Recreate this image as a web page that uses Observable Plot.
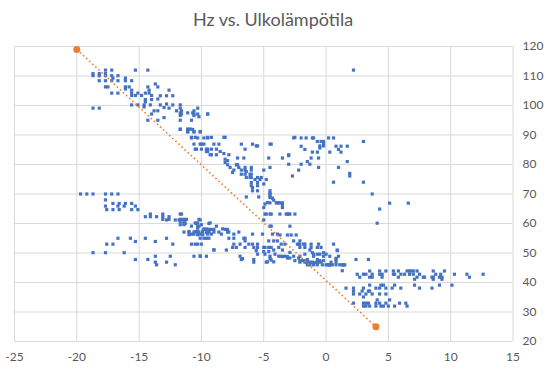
<!DOCTYPE html>
<html>
<head>
<meta charset="utf-8">
<script src="https://cdn.jsdelivr.net/npm/d3@7"></script>
<script src="https://cdn.jsdelivr.net/npm/@observablehq/plot@0.6"></script>
<style>
  html, body { margin: 0; padding: 0; background: #fff; }
  #wrap { width: 546px; }
  #title { height: 38px; line-height: 38px; text-align: center; font-family: Lato, "Open Sans", sans-serif; font-size: 18px; color: #595959; }
</style>
</head>
<body>
<div id="wrap">
  <div id="title">Hz vs. Ulkolämpötila</div>
  <div id="chart"></div>
</div>
<script>
// [Ulkolämpötila, Hz]
const upperBandLeft = [
  [-15.3,112.0],[-14.3,112.0],
  [-18.7,110.8],[-18.7,110.1],[-18.2,110.8],[-18.2,110.1],[-17.7,112.0],[-17.7,110.8],[-17.7,110.1],[-17.2,112.0],[-17.2,110.1],[-17.1,109.3],[-16.7,110.1],[-16.1,109.3],[-18.2,108.4],[-17.7,108.4],[-17.2,108.4],[-16.7,108.4],[-16.1,108.4],
  [-17.7,106.3],[-17.5,106.3],[-17.2,104.2],[-16.7,104.2],
  [-16.1,106.3],[-16.1,105.6],[-15.8,106.3],[-15.6,105.2],[-15.6,108.4],[-15.6,104.2],[-15.6,103.4],
  [-15.3,103.4],[-15.1,104.2],[-14.8,103.4],[-14.5,104.2],[-14.5,102.0],[-14.3,106.3],[-14.2,105.2],[-14.2,104.2],[-14.0,103.4],[-13.7,107.3],[-13.5,106.3],[-14.0,102.0],
  [-18.7,99.1],[-18.2,99.1],
  [-15.6,100.2],[-15.1,100.2],[-14.6,100.2],[-14.1,100.2],[-13.3,100.2],
  [-14.6,99.5],[-14.3,95.0],[-14.0,97.1],[-13.8,98.2],[-13.5,98.2],[-13.5,95.0],[-13.0,99.3],[-13.0,95.9],[-12.8,100.5],[-12.6,99.1],[-12.3,100.2],[-12.0,98.2],[-11.7,100.2],[-11.7,99.1],[-11.6,98.2],[-11.6,97.1],[-11.7,95.0],[-11.7,92.0],[-11.1,92.0],[-11.1,91.2],[-10.9,92.0],[-10.6,98.2],[-10.6,97.1],[-10.3,99.1],[-10.3,97.1],[-10.8,95.0],[-10.1,91.2],[-9.5,97.1],[-10.6,91.2],
  [-10.8,89.0],[-10.3,89.0],[-9.8,89.0],[-9.5,89.0],[-10.6,86.9],[-10.1,86.9],[-9.8,86.9],[-10.4,85.2],[-10.0,85.2],[-9.5,85.2],[-9.5,84.4],[-9.3,83.3],
  [-12.6,105.2],[-12.3,103.3],[-12.8,103.3],[-13.3,103.3],[-13.5,102.2],[-14.5,101.2]
];
const upperBandMid = [
  [-11.7,97.5],[-11.7,96.6],[-11.1,97.5],[-10.7,97.5],[-10.6,96.6],[-10.2,96.2],[-9.5,97.1],
  [-11.7,91.9],[-11.1,91.9],[-10.7,91.9],[-10.6,91.0],[-11.1,91.0],[-10.1,91.0],
  [-10.8,89.2],[-10.5,89.2],[-9.5,89.2],[-9.2,89.2],[-8.2,89.2],[-8.1,89.2],
  [-10.0,86.9],[-9.0,86.9],[-8.6,86.9],[-6.8,86.9],[-5.9,86.9],[-5.5,86.3],[-4.4,86.9],
  [-10.5,85.2],[-9.6,85.2],[-9.6,84.4],[-9.2,85.2],[-8.8,85.2],[-8.5,84.4],[-8.2,83.7],[-7.8,83.3],[-6.5,85.2],
  [-9.2,83.3],[-8.8,83.3],[-8.1,81.8],[-8.1,80.7],[-7.9,81.3],[-7.9,79.9],[-7.7,79.0],[-7.5,77.3],[-7.4,78.1],[-7.2,79.9],[-7.1,82.2],[-7.1,79.9],[-7.0,79.0],[-6.8,78.1],[-6.8,76.7],[-6.6,82.2],[-6.5,79.0],[-6.5,78.1],[-6.5,76.7],[-6.4,77.6],[-6.4,75.6],[-6.1,76.7],[-6.1,75.6],[-6.0,79.0],[-6.0,78.1],[-6.0,76.7],[-6.0,75.6],[-6.0,73.9],[-6.0,72.8],[-5.9,72.2],[-5.9,71.1],[-5.7,74.9],[-5.5,75.6],[-5.5,73.9],[-5.5,72.8],[-5.5,71.1],[-5.3,74.9],[-5.2,75.6],[-5.0,78.1],[-5.0,73.4],[-4.8,74.9],[-5.4,69.0],[-6.4,69.0],[-4.7,67.1],[-4.5,71.1],[-4.5,70.0],[-4.5,68.8],[-4.3,68.6],[-4.2,67.9],[-3.9,67.0],[-3.8,67.0],[-3.5,67.0],[-3.5,65.4],[-4.9,66.6],[-5.0,65.4],[-4.8,63.2],[-4.5,63.2],[-3.7,63.2],[-3.0,63.2],[-2.5,63.2],
  [-4.6,82.2],[-4.5,79.0],[-3.5,82.2],[-3.0,83.3],[-3.0,80.1],[-2.5,89.2],[-2.2,78.1],[-5.6,86.3]
];
const upperRight = [
  [-2.6,89.0],[-2.0,89.0],[-1.6,89.0],[-1.1,89.0],[-1.0,89.0],[0.2,89.0],[0.6,89.0],
  [-0.7,87.8],[-0.4,87.8],[-0.2,87.8],[-0.2,87.1],[-0.2,86.3],[-0.5,86.3],[-0.5,85.6],[-2.0,86.2],[-1.7,85.1],[-1.1,84.2],[-0.7,84.2],
  [0.8,86.2],[1.2,86.2],[1.7,86.2],[1.0,85.1],[1.2,84.2],[0.3,84.2],[3.0,87.8],[-4.5,86.9],
  [-3.0,83.0],[-2.0,80.1],[-1.3,80.1],[-1.5,81.0],[-1.2,82.2],[-0.6,82.2],[-0.6,79.0],[1.7,81.0],[1.0,79.0],[-2.7,76.1],[1.9,77.0],[1.9,76.1],[0.6,74.0],[3.0,74.0],[3.7,70.0],[4.3,64.9],[4.1,60.1],[5.1,66.9],[6.6,66.9],[2.2,112.0],
  [-4.5,70.2],[-4.5,69.3],[-4.5,67.0],[-4.0,67.0],[-3.7,67.0],[-3.5,66.1],[-3.2,63.2],[-2.9,63.2],[-4.5,59.1],[-2.9,59.1]
];
const lowerBandLeft = [
  [-19.7,70.0],[-19.2,70.0],[-18.7,70.0],[-17.7,70.0],[-17.2,70.0],[-16.7,70.0],
  [-17.7,68.0],
  [-17.1,66.8],[-16.6,66.8],[-16.1,66.8],[-15.6,66.8],
  [-17.7,65.9],[-16.7,65.9],[-16.2,65.9],[-15.3,65.9],
  [-17.6,64.7],[-17.1,64.7],[-16.6,64.7],[-15.6,64.7],[-15.1,64.7],
  [-14.5,62.3],[-14.1,63.2],[-14.1,62.3],[-13.6,62.3],[-13.1,63.2],[-13.1,62.3],[-13.1,61.4],[-12.8,61.2],[-12.6,62.3],[-12.6,61.4],[-12.1,61.2],[-11.8,61.2],[-11.6,63.2],[-11.6,61.4],[-11.4,60.0],[-11.3,61.2],[-11.3,60.0],[-10.8,59.1],[-10.4,60.0],[-10.3,59.1],[-10.1,61.2],[-9.8,58.1],[-9.6,58.1],[-9.4,60.0],[-9.6,56.9],[-9.4,57.3],
  [-11.0,57.3],[-11.0,56.2],[-10.8,56.4],[-10.6,56.4],[-10.5,57.3],[-10.3,57.3],[-10.3,56.2],[-10.1,56.4],[-9.9,57.3],[-9.9,56.2],[-9.8,55.0],[-9.6,55.0],[-9.4,55.0],[-10.8,53.0],[-10.5,53.0],[-10.3,53.0],[-10.1,55.0],[-10.0,53.0],
  [-16.7,55.0],[-17.6,53.0],[-17.1,53.0],[-15.7,55.0],[-15.3,53.9],[-14.5,55.0],[-13.7,53.9],[-12.8,55.0],[-12.3,53.0],
  [-18.7,50.1],[-17.7,50.1],[-16.2,50.1],
  [-15.3,47.8],[-14.3,47.8],[-13.7,48.9],[-13.7,46.9],[-13.6,46.0],[-12.8,46.9],[-12.5,48.9],[-12.1,46.0],[-10.6,48.9],[-10.1,48.9],[-9.6,48.9]
];
const lowerBandMid = [
  [-11.7,63.2],[-11.7,61.4],[-11.7,60.7],[-11.4,61.4],[-11.4,60.7],[-11.4,59.6],[-11.7,59.6],[-11.2,61.4],
  [-10.5,60.2],[-10.3,60.2],[-10.3,58.4],[-10.2,61.4],[-10.2,59.1],[-10.0,59.6],[-10.3,57.1],[-10.2,57.1],
  [-9.8,58.0],[-9.7,58.0],[-9.5,58.0],[-9.4,58.0],[-9.2,58.0],[-9.0,58.0],[-9.0,57.1],[-9.2,56.4],[-9.5,56.4],[-9.4,57.1],[-9.3,60.2],[-8.8,59.1],[-8.6,57.1],[-8.4,56.4],[-8.3,58.2],[-8.1,58.0],[-7.9,58.0],[-7.9,57.1],[-7.8,57.1],[-7.8,55.0],[-7.4,56.4],[-7.4,55.0],[-7.0,57.1],[-6.6,55.0],[-6.5,55.0],[-6.5,54.1],[-5.9,56.4],[-6.2,53.0],[-5.9,53.0],[-5.5,53.0],[-5.5,51.9],[-5.8,51.9],[-6.5,51.9],[-7.2,51.9],[-6.9,53.0],[-7.4,53.0],[-8.0,51.0],[-9.0,51.0],[-7.5,51.9],[-6.9,48.9],[-6.8,47.8],[-5.8,47.8],[-5.8,46.9],[-5.6,50.8],[-5.5,49.6],[-11.0,57.1],[-10.6,57.1],[-11.4,57.1],
  [-9.0,51.1],[-6.7,48.1],[-4.7,47.0],[-4.5,48.1],[-4.2,47.0],[-10.1,49.0]
];
const lowerBandRight = [
  [-4.9,63.2],[-4.4,63.2],[-3.1,63.2],[-5.0,61.2],[-4.4,59.1],[-5.1,56.4],[-4.3,56.4],[-3.9,56.4],[-3.7,56.1],[-3.1,56.1],[-2.8,56.1],[-2.4,56.1],
  [-4.6,54.1],[-4.2,54.1],[-3.9,54.1],[-3.6,53.0],[-3.3,53.0],[-2.6,54.1],[-2.3,53.0],[-2.2,53.0],[-1.8,53.0],[-1.7,51.9],[-1.2,53.0],[-0.6,53.0],
  [-5.0,51.9],[-4.9,51.9],[-4.6,51.9],[-4.4,51.9],[-4.2,51.0],[-3.8,51.9],[-3.5,51.0],[-3.5,48.8],[-3.1,48.8],[-2.9,50.2],
  [-5.0,50.5],[-4.9,49.6],[-4.6,50.5],[-4.5,48.9],[-4.4,47.6],[-4.8,46.9],[-4.1,49.6],[-3.8,48.9],[-3.6,48.9],[-3.3,48.9],[-3.1,48.3],[-2.9,48.3],[-2.6,48.9],[-2.5,47.4],[-2.2,48.3],[-2.1,47.4],[-1.9,47.4],[-1.7,47.4],[-1.5,46.7],[-1.4,46.7],[-1.2,46.7],[-1.0,46.0],[-0.9,46.7],[-0.7,47.8],[-0.5,47.4],[-0.3,46.0],[-0.2,47.4],[0.1,46.0],[0.3,46.0],[0.4,46.9],[0.6,53.0],[0.9,50.8],[1.0,48.9],[-1.0,49.6],[-0.7,49.6],[-0.5,49.6],[0.0,49.6],[-1.7,49.6],
  [-2.1,54.1],[-2.1,53.0],[-2.1,51.9],[-1.7,53.0],[-1.2,51.9],[-0.7,51.9],[-0.4,51.9],[0.9,51.0],[-1.3,51.0],[-1.1,50.1],[-1.0,48.9],[-0.2,50.1],[-0.2,48.9],[0.3,48.9],[-2.1,48.9],
  [-2.1,46.9],[-1.7,46.9],[-1.5,46.9],[-1.3,46.9],[-1.1,46.9],[-0.7,46.9],[-0.6,46.9],[-0.4,46.9],[-1.5,47.8],
  [-1.5,46.0],[-1.3,46.0],[-0.7,46.0],[0.0,46.0],[0.2,46.0],[0.5,46.0],[0.8,46.0],[1.1,46.0],[1.3,46.0],[1.5,46.0],
  [0.8,47.8],[0.8,46.9],[2.4,47.8],[3.4,47.8],[1.3,44.0],
  [0.3,45.9],[1.4,45.9],[0.8,48.2]
];
// right cluster, one row per Hz level
const rightRowsHz = [43.9, 42.8, 41.8, 41.1, 39.1, 38.1, 37.1, 36.1, 35.1, 34.1, 33.0, 32.0];
const rightRowsTemp = [
  [3.5,4.3,4.8,5.4,5.8,6.5,6.7,6.8,7.0,7.3,8.6,9.5],
  [2.5,3.0,3.2,3.7,4.3,4.5,5.4,5.5,6.0,6.3,6.7,7.0,7.5,8.8,9.2,10.3,11.3,12.6],
  [2.7,3.5,3.7,4.5,5.8,7.3,7.8,7.9,8.5,8.6,9.1,9.3,11.5],
  [7.1,8.6,9.3],
  [3.5,4.4,4.6,5.5,7.1,9.1,10.1],
  [1.6,2.2,3.0,4.0,4.3,4.8,5.3,6.0,7.5,8.5],
  [2.2,2.9,3.4,3.5],
  [2.2,2.7,3.2,3.7,4.3,4.8],
  [3.0],
  [4.1,5.1],
  [2.2,3.0,3.2,3.4,4.0,4.3,4.8,5.9,6.4],
  [3.0,3.2,3.5,4.0,4.4,4.6,5.0,5.5,6.5]
];
// trend line end points
const trendTemp = [-20, 4];
const trendHz = [119, 25];

const xTicks = [-25, -20, -15, -10, -5, 0, 5, 10, 15];
const yTicks = [20, 30, 40, 50, 60, 70, 80, 90, 100, 110, 120];

const pairs = [...upperBandLeft, ...upperBandMid, ...upperRight, ...lowerBandLeft, ...lowerBandMid, ...lowerBandRight];
rightRowsHz.forEach((hz, i) => rightRowsTemp[i].forEach(t => pairs.push([t, hz])));
const points = pairs.map(([t, hz]) => ({t, hz}));
const trend = trendTemp.map((t, i) => ({t, hz: trendHz[i]}));

const chart = Plot.plot({
  width: 546,
  height: 332,
  marginTop: 8,
  marginBottom: 29,
  marginLeft: 14,
  marginRight: 33.5,
  style: {fontFamily: "Lato, 'Open Sans', sans-serif", fontSize: "12px", color: "#595959", background: "#fff", overflow: "visible"},
  x: {domain: [-25, 15], ticks: xTicks, tickSize: 0, tickPadding: 11, tickFormat: d => String(d), label: null},
  y: {domain: [20, 120], ticks: yTicks, axis: "right", tickSize: 0, tickPadding: 9.5, tickFormat: d => String(d), label: null},
  marks: [
    Plot.ruleX(xTicks, {stroke: "#d9d9d9", strokeWidth: 1}),
    Plot.ruleY(yTicks, {stroke: "#d9d9d9", strokeWidth: 1}),
    Plot.dot(points, {x: "t", y: "hz", symbol: "square", r: 1.8, fill: "#4472c4", stroke: "none"}),
    Plot.line(trend, {x: "t", y: "hz", stroke: "#ed7d31", strokeWidth: 1.6, strokeDasharray: "1.6,2.6", strokeLinecap: "butt"}),
    Plot.dot(trend, {x: "t", y: "hz", r: 3.5, fill: "#ed7d31", stroke: "none"})
  ]
});
document.getElementById("chart").appendChild(chart);
</script>
</body>
</html>
